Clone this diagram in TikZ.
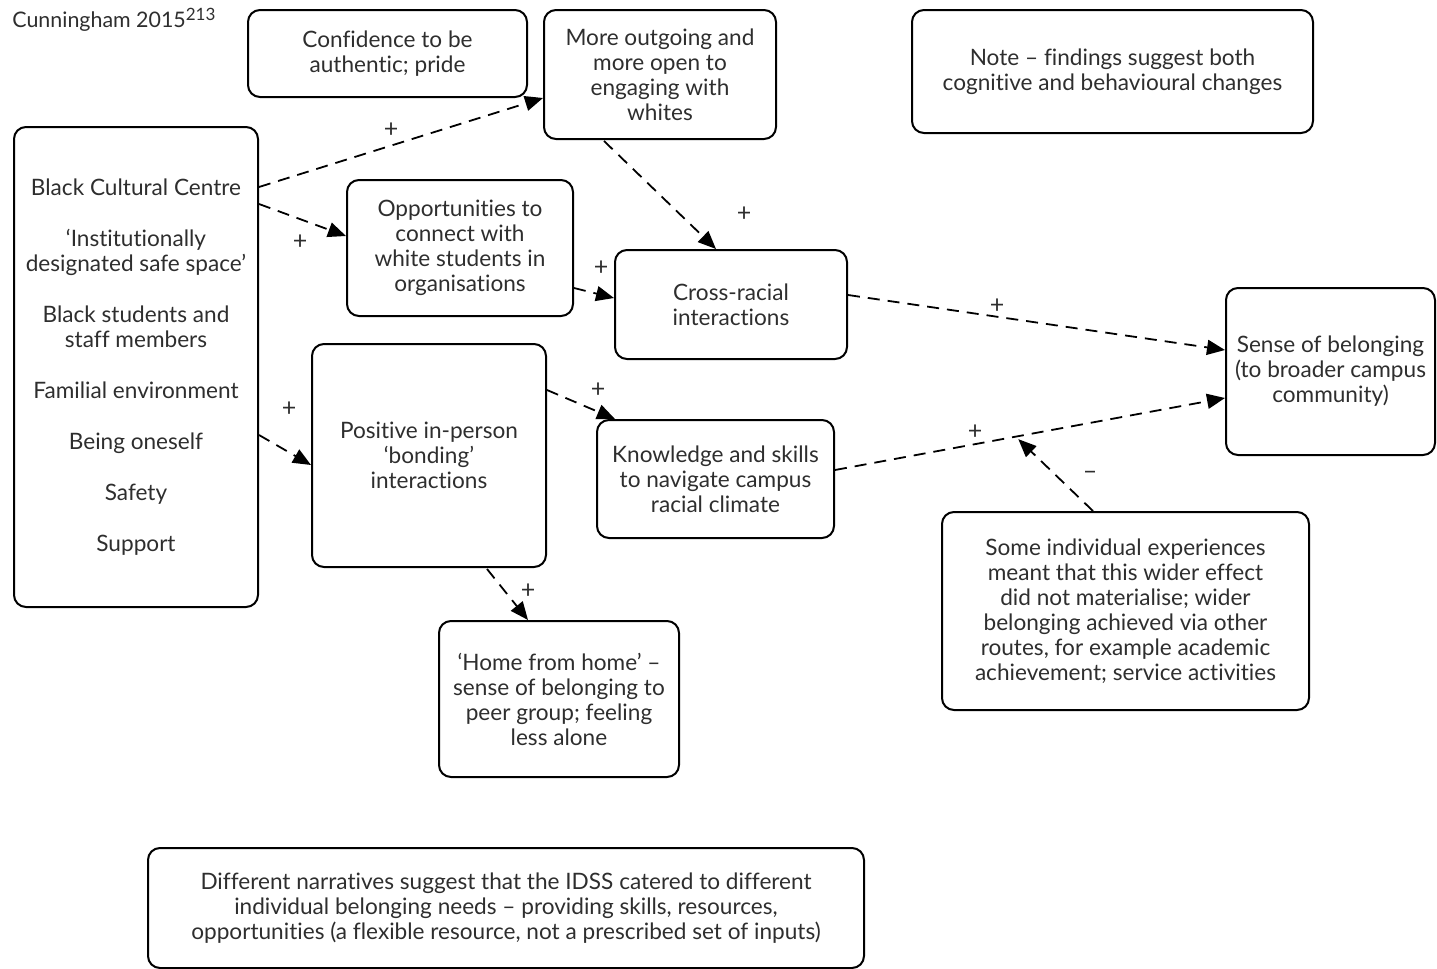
\documentclass[tikz,border=0pt]{standalone}
\usepackage{fontspec}
\setmainfont{Lato}[Ligatures={TeX,CommonOff}]
\usetikzlibrary{arrows.meta,calc}
\definecolor{txt}{HTML}{2E2E2E}
\tikzset{
  box/.style={draw=black, line width=1pt, rounded corners=6pt, align=center, text=txt,
    inner sep=0pt, font=\fontsize{11.3}{12.5}\selectfont},
  conn/.style={draw=black, line width=0.9pt, dash pattern=on 6pt off 4pt,
    -{Triangle[length=9pt,width=7.5pt]}},
  lbl/.style={text=txt, font=\fontsize{12.5}{14}\selectfont, inner sep=0pt},
}
\begin{document}
\begin{tikzpicture}[x=0.5pt,y=-0.5pt]
\useasboundingbox (0,0) rectangle (1437,969);
\node[anchor=west, text=txt, inner sep=0pt, font=\fontsize{10.7}{12.5}\selectfont] (title) at (12,20) {Cunningham 2015\raisebox{3.5pt}{\fontsize{8.5}{10}\selectfont 213}};

\node[box, minimum width=139.5pt, minimum height=43.5pt] (C) at (387.5,53.5) {Confidence to be\\authentic; pride};
\node[box, minimum width=116pt, minimum height=64.5pt] (M) at (660,74.5) {More outgoing and\\more open to\\engaging with\\whites};
\node[box, minimum width=200.5pt, minimum height=61.5pt] (N) at (1112.5,71.5) {Note -- findings suggest both\\cognitive and behavioural changes};
\node[box, minimum width=122pt, minimum height=240pt] (L) at (136,367) {Black Cultural Centre\\[13pt]`Institutionally\\designated safe space'\\[13pt]Black students and\\staff members\\[13pt]Familial environment\\[13pt]Being oneself\\[13pt]Safety\\[13pt]Support};
\node[box, minimum width=113pt, minimum height=68pt] (O) at (460,248) {Opportunities to\\connect with\\white students in\\organisations};
\node[box, minimum width=116pt, minimum height=54.5pt] (X) at (731,304.5) {Cross-racial\\interactions};
\node[box, minimum width=104.5pt, minimum height=83.5pt] (S) at (1330.5,371.5) {Sense of belonging\\(to broader campus\\community)};
\node[box, minimum width=117pt, minimum height=111.5pt] (P) at (429,455.5) {Positive in-person\\`bonding'\\interactions};
\node[box, minimum width=118.5pt, minimum height=59pt] (K) at (715.5,479) {Knowledge and skills\\to navigate campus\\racial climate};
\node[box, minimum width=183.5pt, minimum height=99pt] (I) at (1125.5,611) {Some individual experiences\\meant that this wider effect\\did not materialise; wider\\belonging achieved via other\\routes, for example academic\\achievement; service activities};
\node[box, minimum width=120pt, minimum height=78pt] (H) at (559,699) {`Home from home' --\\sense of belonging to\\peer group; feeling\\less alone};
\node[box, minimum width=358pt, minimum height=60pt] (D) at (506,908) {Different narratives suggest that the IDSS catered to different\\individual belonging needs -- providing skills, resources,\\opportunities (a flexible resource, not a prescribed set of inputs)};

% connectors
\draw[conn] ($(L.east)+(0,-180)$) -- ($(M.west)+(0,23.5)$);
\draw[conn] ($(L.east)+(0,-163)$) -- ($(O.west)+(0,-12)$);
\draw[conn] ($(L.east)+(0,68)$) -- ($(P.west)+(0,9.5)$);
\draw[conn] ($(M.south)+(-56,1)$) -- ($(X.north)+(-15,0)$);
\draw[conn] ($(O.east)+(0,40)$) -- ($(X.west)+(0,-6.5)$);
\draw[conn] ($(X.east)+(0,-9.5)$) -- ($(S.west)+(0,-21.5)$);
\draw[conn] ($(P.east)+(0,-65.5)$) -- ($(K.north)+(-100.5,0)$);
\draw[conn] ($(K.east)+(0,-9)$) -- ($(S.west)+(0,26.5)$) coordinate[pos=0.47] (m);
\draw[conn] ($(P.south)+(58,1)$) -- ($(H.north)+(-31,0)$);
\draw[conn] ($(I.north)+(-32.5,0)$) -- ($(m)+(0,3)$);

% labels
\node[lbl] (l1) at (391,130) {+};
\node[lbl] (l2) at (300,242) {+};
\node[lbl] (l3) at (289,409) {+};
\node[lbl] (l4) at (744,214) {+};
\node[lbl] (l5) at (601,268) {+};
\node[lbl] (l6) at (997,306) {+};
\node[lbl] (l7) at (598,390) {+};
\node[lbl] (l8) at (975,432) {+};
\node[lbl] (l9) at (528,591) {+};
\node[lbl] (l10) at (1090,475) {--};
\end{tikzpicture}
\end{document}
